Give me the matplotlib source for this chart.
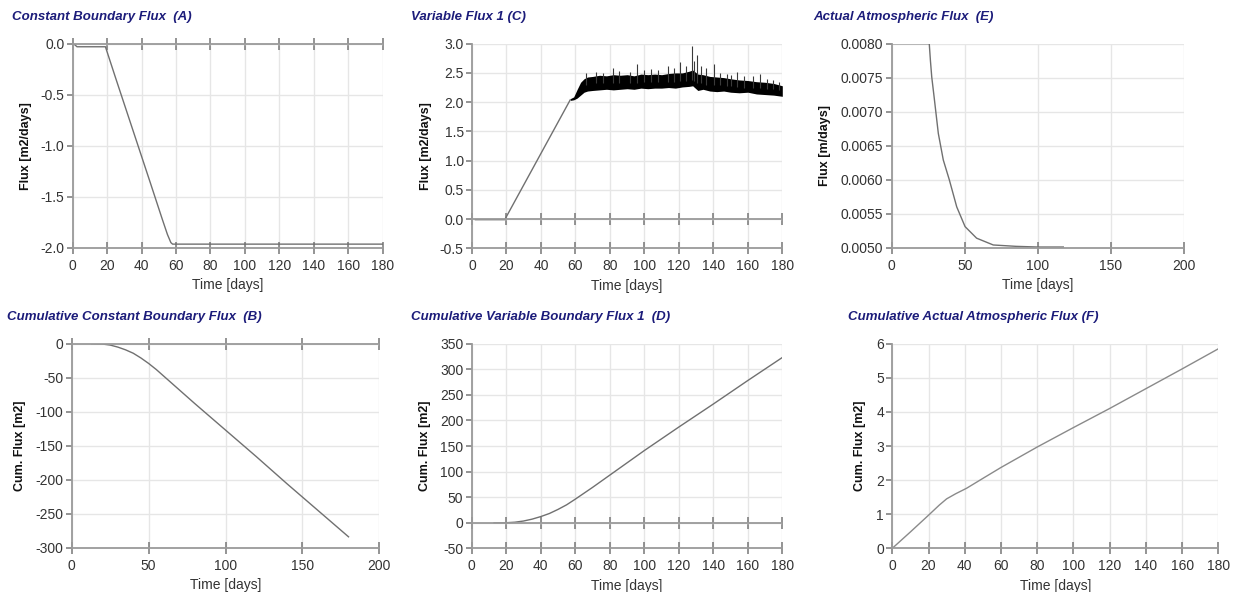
import matplotlib
matplotlib.use("Agg")
import matplotlib.pyplot as plt
from matplotlib.ticker import FormatStrFormatter

plt.rcParams['font.family'] = ['Liberation Sans', 'DejaVu Sans']
plt.rcParams['axes.unicode_minus'] = False

# ---- data ----
# (A) constant boundary flux
a_days = [0.5, 2.5, 19, 25, 35, 45, 52, 55, 57, 58, 180]
a_flux = [0.0, -0.03, -0.03, -0.34, -0.85, -1.36, -1.72, -1.87, -1.95, -1.965, -1.965]

# (B) cumulative constant boundary flux
b_days = [13, 20, 25, 30, 35, 40, 45, 50, 55, 60, 80, 100, 120, 140, 160, 180]
b_cum = [0, -0.5, -2, -5, -9, -14, -21, -29, -38, -48, -88, -127, -166, -206, -245, -284]

# (C) variable flux 1: smooth part, then a noisy band (envelope) with spikes
c_days = [2, 19, 57]
c_flux = [-0.01, -0.01, 2.04]
band_days = [57, 59, 61, 63, 65, 67, 70, 74, 78, 82, 86, 90, 94, 98, 102, 106, 110,
             114, 118, 122, 126, 128, 131, 134, 138, 142, 146, 150, 155, 160, 165, 170, 175, 180]
band_lo = [2.03, 2.04, 2.07, 2.12, 2.17, 2.19, 2.20, 2.21, 2.22, 2.21, 2.22, 2.23, 2.22, 2.24, 2.23, 2.24,
           2.24, 2.25, 2.24, 2.26, 2.27, 2.28, 2.20, 2.22, 2.19, 2.18, 2.19, 2.17, 2.16, 2.17, 2.14, 2.13, 2.12, 2.10]
band_hi = [2.06, 2.09, 2.22, 2.34, 2.40, 2.43, 2.44, 2.46, 2.45, 2.47, 2.46, 2.47, 2.45, 2.48, 2.47, 2.48,
           2.47, 2.49, 2.50, 2.50, 2.53, 2.55, 2.48, 2.47, 2.44, 2.43, 2.42, 2.40, 2.38, 2.37, 2.35, 2.34, 2.32, 2.28]
spike_days = [66, 72, 76, 82.0, 85, 91.6, 95.5, 100, 104, 108, 113.9, 117, 120.6, 124, 127.4, 129, 130.3,
              133, 136.0, 140.6, 144, 147.7, 150, 153.5, 158, 163.0, 167.0, 171, 174.8, 178]
spike_top = [2.50, 2.52, 2.50, 2.58, 2.53, 2.52, 2.65, 2.55, 2.57, 2.55, 2.61, 2.58, 2.68, 2.62, 2.96, 2.70, 2.81,
             2.62, 2.58, 2.65, 2.50, 2.49, 2.47, 2.52, 2.44, 2.45, 2.48, 2.40, 2.38, 2.35]
spike_low = [2.30, 2.32, 2.32, 2.33, 2.33, 2.33, 2.33, 2.34, 2.34, 2.34, 2.35, 2.35, 2.36, 2.36, 2.38, 2.36,
             2.32, 2.32, 2.30, 2.30, 2.29, 2.28, 2.27, 2.26, 2.25, 2.25, 2.24, 2.23, 2.22, 2.20]

# (D) cumulative variable boundary flux 1
d_days = [13, 20, 25, 30, 35, 40, 45, 50, 55, 60, 70, 80, 100, 120, 140, 160, 180]
d_cum = [0, 0, 1, 3.3, 7, 12, 18, 26, 35, 46, 69, 93, 141, 187, 232, 278, 323]

# (E) actual atmospheric flux
e_days = [0, 25.7, 26.5, 27.4, 29, 31.9, 35.3, 39.4, 44.5, 50.2, 58.1, 69.5, 85, 100, 117.4]
e_flux = [0.0080, 0.0080, 0.00775, 0.00751, 0.00722, 0.00668, 0.00629, 0.00600, 0.00560,
          0.00531, 0.00514, 0.00504, 0.00502, 0.00501, 0.00501]

# (F) cumulative actual atmospheric flux
f_days = [0, 10, 20, 26, 30, 35, 41, 50, 60, 80, 100, 120, 140, 160, 180]
f_cum = [0, 0.48, 0.97, 1.27, 1.45, 1.6, 1.76, 2.05, 2.37, 2.97, 3.54, 4.10, 4.68, 5.26, 5.85]

W, H = 1239, 592
fig = plt.figure(figsize=(W / 100, H / 100), dpi=100)
fig.patch.set_facecolor('white')

TITLE_C = '#1c1c7a'
AX_C = '#9a9a9a'
GRID_C = '#e6e6e6'
LINE_C = '#707070'


def make_axes(l, r, t, b, xlim, xstep, ylim, ystep, fmt, ylab, ylab_x, title, title_x, title_y, zero_line):
    ax = fig.add_axes([l / W, 1 - b / H, (r - l) / W, (b - t) / H])
    ax.set_xlim(*xlim)
    ax.set_ylim(*ylim)
    xt = [xlim[0] + i * xstep for i in range(int(round((xlim[1] - xlim[0]) / xstep)) + 1)]
    yt = [ylim[0] + i * ystep for i in range(int(round((ylim[1] - ylim[0]) / ystep)) + 1)]
    ax.set_xticks(xt)
    ax.set_yticks(yt)
    ax.yaxis.set_major_formatter(FormatStrFormatter(fmt))
    ax.grid(True, color=GRID_C, lw=1.0, zorder=0)
    ax.set_axisbelow(True)
    ax.spines['right'].set_visible(False)
    for s in ('left', 'bottom', 'top'):
        ax.spines[s].set_color(AX_C)
        ax.spines[s].set_linewidth(1.3)
    if zero_line:
        ax.spines['top'].set_position(('data', 0))
        ax.tick_params(axis='x', top=True, labeltop=False)
    else:
        ax.spines['top'].set_visible(False)
    ax.tick_params(axis='x', direction='inout', length=8, width=1.1, color='#777777',
                   labelsize=10, labelcolor='#333333', pad=4)
    ax.tick_params(axis='y', direction='out', length=4, width=1.1, color='#777777',
                   labelsize=10, labelcolor='#333333', pad=2)
    ax.set_xlabel('Time [days]', fontsize=10, color='#333333', va='center')
    ax.xaxis.set_label_coords(0.5, -(285.5 - 247.7) / (b - t))
    ax.set_ylabel(ylab, fontsize=9, fontweight='bold', color='#111111', va='center')
    ax.yaxis.set_label_coords(-(l - ylab_x) / (r - l), 0.5)
    fig.text(title_x / W, 1 - title_y / H, title, fontsize=9.5, fontweight='bold',
             style='italic', color=TITLE_C, va='center', ha='left')
    return ax


axA = make_axes(72.7, 382.7, 43.7, 247.7, (0, 180), 20, (-2.0, 0.0), 0.5, '%.1f',
                'Flux [m2/days]', 26, 'Constant Boundary Flux  (A)', 12, 17, True)
axA.plot(a_days, a_flux, color=LINE_C, lw=1.0)

axC = make_axes(472, 782.3, 43.7, 248.3, (0, 180), 20, (-0.5, 3.0), 0.5, '%.1f',
                'Flux [m2/days]', 426, 'Variable Flux 1 (C)', 411, 17, True)
axC.plot(c_days, c_flux, color=LINE_C, lw=1.0)
axC.fill_between(band_days, band_lo, band_hi, color='black', lw=0)
axC.vlines(spike_days, spike_low, spike_top, color='#3a3a3a', lw=0.8)

axE = make_axes(891.7, 1184, 43.7, 247.7, (0, 200), 50, (0.0050, 0.0080), 0.0005, '%.4f',
                'Flux [m/days]', 825, 'Actual Atmospheric Flux  (E)', 813, 17, False)
axE.plot(e_days, e_flux, color=LINE_C, lw=1.0)

axB = make_axes(71.7, 379.3, 343.7, 547.7, (0, 200), 50, (-300, 0), 50, '%d',
                'Cum. Flux [m2]', 20, 'Cumulative Constant Boundary Flux  (B)', 7, 317, True)
axB.plot(b_days, b_cum, color=LINE_C, lw=1.0)

axD = make_axes(471.7, 782.3, 343.7, 548.3, (0, 180), 20, (-50, 350), 50, '%d',
                'Cum. Flux [m2]', 425, 'Cumulative Variable Boundary Flux 1  (D)', 411, 317, True)
axD.plot(d_days, d_cum, color=LINE_C, lw=1.0)

axF = make_axes(892.3, 1218.3, 343.7, 548.3, (0, 180), 20, (0, 6), 1, '%d',
                'Cum. Flux [m2]', 860, 'Cumulative Actual Atmospheric Flux (F)', 848, 317, False)
axF.plot(f_days, f_cum, color='#8a8a8a', lw=1.0)

fig.savefig('out.png', dpi=100)
